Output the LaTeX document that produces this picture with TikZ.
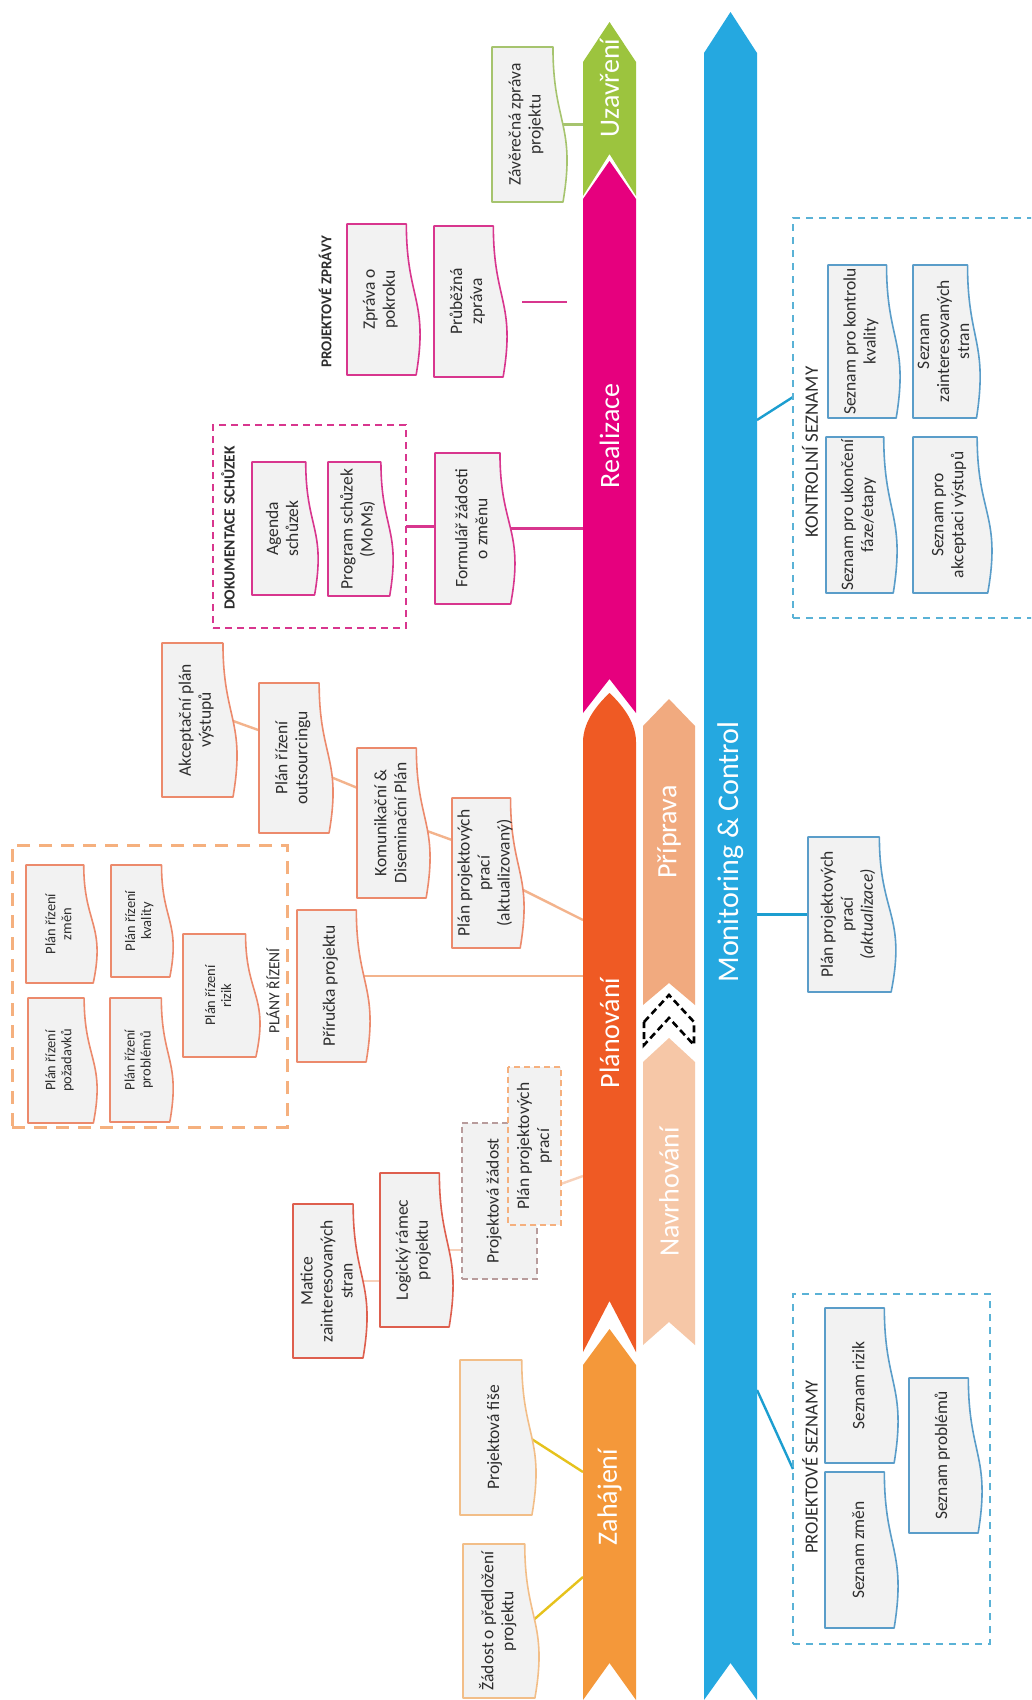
\documentclass[tikz,border=0pt]{standalone}
\usepackage{fontspec}
\setmainfont{Carlito}
\usetikzlibrary{calc}
\pgfdeclarelayer{paper}
\pgfdeclarelayer{links}
\pgfsetlayers{paper,links,main}

\definecolor{txt}{HTML}{2E2E2E}
\definecolor{docfill}{HTML}{F2F2F2}
\definecolor{uzBand}{HTML}{9CC43E}
\definecolor{reBand}{HTML}{E6007E}
\definecolor{plBand}{HTML}{EF5A24}
\definecolor{zaBand}{HTML}{F4983A}
\definecolor{prBand}{HTML}{F1AA7F}
\definecolor{naBand}{HTML}{F6C7A7}
\definecolor{moBand}{HTML}{25A8E0}
\definecolor{uzLine}{HTML}{A6C46E}
\definecolor{reLine}{HTML}{D8368E}
\definecolor{plLine}{HTML}{EC8A6C}
\definecolor{plDark}{HTML}{DE5F4E}
\definecolor{plLink}{HTML}{F3B38C}
\definecolor{plDash}{HTML}{F5B07E}
\definecolor{pzDash}{HTML}{B89C9C}
\definecolor{zaLine}{HTML}{F2BE88}
\definecolor{zaLink}{HTML}{E6C21C}
\definecolor{moLine}{HTML}{5A9DC9}
\definecolor{moLink}{HTML}{1C9ED0}
\definecolor{moDash}{HTML}{5AB2D6}

\tikzset{
  doctext/.style={rotate=90, inner sep=0pt, outer sep=0pt, align=center, text=txt,
    font=\fontsize{17.5}{20}\selectfont},
  smalltext/.style={font=\fontsize{14.5}{16}\selectfont},
  docline/.style={fill=docfill, line width=1.6pt, line join=round},
  bandlabel/.style={rotate=90, inner sep=0pt, outer sep=0pt, minimum height=53,
    text=white, font=\fontsize{28}{32}\selectfont},
  grouplabel/.style={rotate=90, inner sep=0pt, text=txt, font=\fontsize{19}{22}\selectfont},
  grouphead/.style={rotate=90, inner sep=0pt, text=txt, font=\bfseries\fontsize{15.5}{18}\selectfont},
  groupbox/.style={draw, line width=1.4pt, inner sep=0pt, outer sep=0pt},
  link/.style={line width=2.4pt},
}

% document shape with a wavy right edge, plus a named text node over it
% #1 name, #2 border colour, #3 left, #4 top, #5 width, #6 height, #7 extra style, #8 text
\newcommand{\docbox}[8]{%
  \filldraw[docline, draw=#2] (#3,#4) -- ({#3+0.802*#5},#4)
    .. controls ({#3+0.802*#5},{#4+0.5*#6}) and ({#3+1.1075*#5},{#4+0.5*#6})
    .. ({#3+0.934*#5},{#4+#6}) -- (#3,{#4+#6}) -- cycle;
  \node[doctext,#7,minimum width=#6,minimum height={0.9*#5}] (#1)
    at ({#3+0.45*#5},{#4+0.5*#6}) {#8};%
}

\begin{document}
\begin{tikzpicture}[x=1pt,y=-1pt]
\useasboundingbox (0,0) rectangle (1031,1700);
\begin{pgfonlayer}{paper}
  \fill[white] (0,0) rectangle (1031,1700);
\end{pgfonlayer}
\clip (0,0) rectangle (1031,1700);

% ---------- phase bands ----------
\fill[uzBand] (583,62) -- (609.5,22) -- (636,62) -- (636,196) -- (609.5,154) -- (583,196) -- cycle;
\fill[reBand] (583,199) -- (609.5,161) -- (636,199) -- (636,713) -- (609.5,679) -- (583,713) -- cycle;
\fill[plBand] (583,742) .. controls (583,720) and (600,702) .. (609.5,693)
  .. controls (619,702) and (636,720) .. (636,742) -- (636,1352) -- (609.5,1301) -- (583,1352) -- cycle;
\fill[zaBand] (583,1365) -- (609.5,1329) -- (636,1365) -- (636,1700) -- (609.5,1663) -- (583,1700) -- cycle;
\fill[prBand] (643,726) -- (669,699) -- (695,726) -- (695,1005) -- (669,983) -- (643,1005) -- cycle;
\fill[naBand] (643,1062) -- (669,1038) -- (695,1062) -- (695,1345) -- (669,1322) -- (643,1345) -- cycle;
\fill[moBand] (704,53) -- (730.5,12) -- (757,53) -- (757,1700) -- (730.5,1663) -- (704,1700) -- cycle;
% dashed chevron between the two design stages
\draw[black, line width=2.6pt, dash pattern=on 7pt off 4pt, line join=miter]
  (644,1022) -- (669,995) -- (694,1022) -- (694,1045) -- (669,1018) -- (644,1045) -- cycle;

\node[bandlabel] (uza) at (609.5,88) {Uzavření};
\node[bandlabel] (real) at (609.5,436) {Realizace};
\node[bandlabel] (plan) at (609.5,1033) {Plánování};
\node[bandlabel] (zah) at (609.5,1497) {Zahájení};
\node[bandlabel, minimum height=52] (prip) at (669,832) {Příprava};
\node[bandlabel, minimum height=52] (navr) at (669,1192) {Navrhování};
\node[bandlabel, font=\fontsize{30}{34}\selectfont] (mon) at (730.5,852) {Monitoring \& Control};

% ---------- group frames ----------
\node[groupbox, draw=reLine, dash pattern=on 7pt off 5pt, minimum width=193, minimum height=203]
  (dok) at (309.5,526.5) {};
\node[groupbox, draw=plDash, line width=3pt, dash pattern=on 13pt off 9pt, minimum width=275, minimum height=282]
  (plany) at (149.5,986) {};
\node[groupbox, draw=moDash, dash pattern=on 7pt off 6pt, minimum width=252, minimum height=400]
  (ksez) at (919,418) {};
\node[groupbox, draw=moDash, dash pattern=on 7pt off 6pt, minimum width=197, minimum height=350]
  (psez) at (891.5,1469) {};

\node[grouphead, font=\bfseries\fontsize{15}{18}\selectfont] (hzpr) at (325,302) {PROJEKTOVÉ ZPRÁVY};
\node[grouphead] (hdok) at (228,528) {DOKUMENTACE SCHŮZEK};
\node[grouplabel, font=\fontsize{15.5}{18}\selectfont] (hpl) at (273,991) {PLÁNY ŘÍZENÍ};
\node[grouplabel] (hks) at (810,452) {KONTROLNÍ SEZNAMY};
\node[grouplabel, font=\fontsize{18.5}{22}\selectfont] (hps) at (810,1467) {PROJEKTOVÉ SEZNAMY};

% ---------- closing ----------
\docbox{zav}{uzLine}{492}{47}{76}{155}{}{Závěrečná zpráva\\projektu}

% ---------- execution ----------
\docbox{zpr1}{reLine}{347}{224}{74}{151}{}{Zpráva o\\pokroku}
\docbox{zpr2}{reLine}{434}{226}{74}{151}{}{Průběžná\\zpráva}
\docbox{agenda}{reLine}{252}{462}{67}{133}{}{Agenda\\schůzek}
\docbox{program}{reLine}{328}{462}{66}{134}{}{Program schůzek\\(MoMs)}
\docbox{form}{reLine}{435}{453}{81}{151}{}{Formulář žádosti\\o změnu}

% ---------- planning ----------
\docbox{akc}{plLine}{162}{643}{76}{154}{}{Akceptační plán\\výstupů}
\docbox{outs}{plLine}{259}{683}{75}{150}{}{Plán řízení\\outsourcingu}
\docbox{kom}{plLine}{357}{748}{74}{150}{}{Komunikační \&\\Diseminační Plán}
\docbox{akt}{plLine}{452}{798}{73}{150}{}{Plán projektových\\prací\\(aktualizovaný)}
\docbox{pri}{plLine}{297}{910}{74}{152}{}{Příručka projektu}
\docbox{plzm}{plLine}{26}{865}{72}{118}{smalltext}{Plán řízení\\změn}
\docbox{plkv}{plLine}{111}{865}{63}{112}{smalltext}{Plán řízení\\kvality}
\docbox{plri}{plLine}{183}{934}{78}{123}{smalltext}{Plán řízení\\rizik}
\docbox{plpo}{plLine}{28}{998}{70}{125}{smalltext}{Plán řízení\\požadavků}
\docbox{plpr}{plLine}{110}{998}{64}{124}{smalltext}{Plán řízení\\problémů}

% ---------- design ----------
\docbox{mat}{plDark}{293}{1204}{75}{154}{}{Matice\\zainteresovaných\\stran}
\docbox{log}{plDark}{380}{1173}{74}{154}{}{Logický rámec\\projektu}
\node[draw=pzDash, fill=docfill, line width=1.6pt, dash pattern=on 6pt off 4pt,
  inner sep=0pt, outer sep=0pt, minimum width=75, minimum height=156] (pz) at (499.5,1201) {};
\node[doctext] (pzt) at (494,1201) {Projektová žádost};
\node[doctext, draw=plDash, fill=docfill, line width=1.6pt, dash pattern=on 6pt off 4pt,
  minimum width=158, minimum height=53] (pp) at (534.5,1146) {Plán projektových\\prací};

% ---------- initiation ----------
\docbox{fise}{zaLine}{460}{1360}{77}{155}{}{Projektová fiše}
\docbox{zad}{zaLine}{463}{1544}{77}{154}{}{Žádost o předložení\\projektu}

% ---------- monitoring ----------
\docbox{mplan}{moLine}{808}{837}{89}{155}{}{Plán projektových\\prací\\\textit{(aktualizace)}}
\docbox{kon1}{moLine}{828}{265}{73}{153}{}{Seznam pro kontrolu\\kvality}
\docbox{kon2}{moLine}{913}{265}{68}{153}{}{Seznam\\zainteresovaných\\stran}
\docbox{kon3}{moLine}{826}{437}{72}{156}{}{Seznam pro ukončení\\fáze/etapy}
\docbox{kon4}{moLine}{913}{437}{80}{156}{}{Seznam pro\\akceptaci výstupů}
\docbox{ps1}{moLine}{825}{1308}{74}{155}{}{Seznam rizik}
\docbox{ps2}{moLine}{825}{1472}{74}{156}{}{Seznam změn}
\docbox{ps3}{moLine}{909}{1378}{74}{155}{}{Seznam problémů}

% ---------- connectors ----------
\coordinate (zprA) at (522,302);
\coordinate (zprB) at (567,302);
\coordinate (planA) at (583,920);
\coordinate (planB) at (583,1176);
\coordinate (zahA) at (583,1472);
\coordinate (zahB) at (583,1577);
\coordinate (monA) at (757,420);
\coordinate (monB) at (757,1390);
\coordinate (priOut) at ($(pri.south)!0.13!(pri.south east)$);

\begin{pgfonlayer}{links}
  \draw[link, uzLine] (zav.south) -- (zav.south -| uza.north);
  \draw[link, reLine] (zprA) -- (zprB);
  \draw[link, reLine] (dok.east) -- (dok.east -| form.north);
  \draw[link, reLine] (form.south) -- (form.south -| real.north);
  \draw[link, plLink] (akc.south) -- ($(outs.north)!0.37!(outs.north east)$);
  \draw[link, plLink] ($(outs.south)!0.23!(outs.south west)$) -- ($(kom.north)!0.47!(kom.north east)$);
  \draw[link, plLink] ($(kom.south)!0.09!(kom.south west)$) -- ($(akt.north)!0.44!(akt.north east)$);
  \draw[link, plLink] ($(akt.south)!0.19!(akt.south west)$) -- (planA);
  \draw[link, plLink] (priOut) -- (priOut -| plan.north);
  \draw[link, plLink, opacity=0.6] (mat.south) -- (mat.south -| log.north);
  \draw[link, plLink, opacity=0.6] (log.south) -- (log.south -| pz.west);
  \draw[link, plLink, opacity=0.6] ($(pp.south)!0.48!(pp.south west)$) -- (planB);
  \draw[link, zaLink] (fise.south) -- (zahA);
  \draw[link, zaLink] (zad.south) -- (zahB);
  \draw[link, moLink] (monA) -- ($(ksez.west)!0.105!(ksez.north west)$);
  \draw[link, moLink] (mplan.north -| mon.south) -- (mplan.north);
  \draw[link, moLink] (monB) -- (psez.west);
\end{pgfonlayer}
\end{tikzpicture}
\end{document}
